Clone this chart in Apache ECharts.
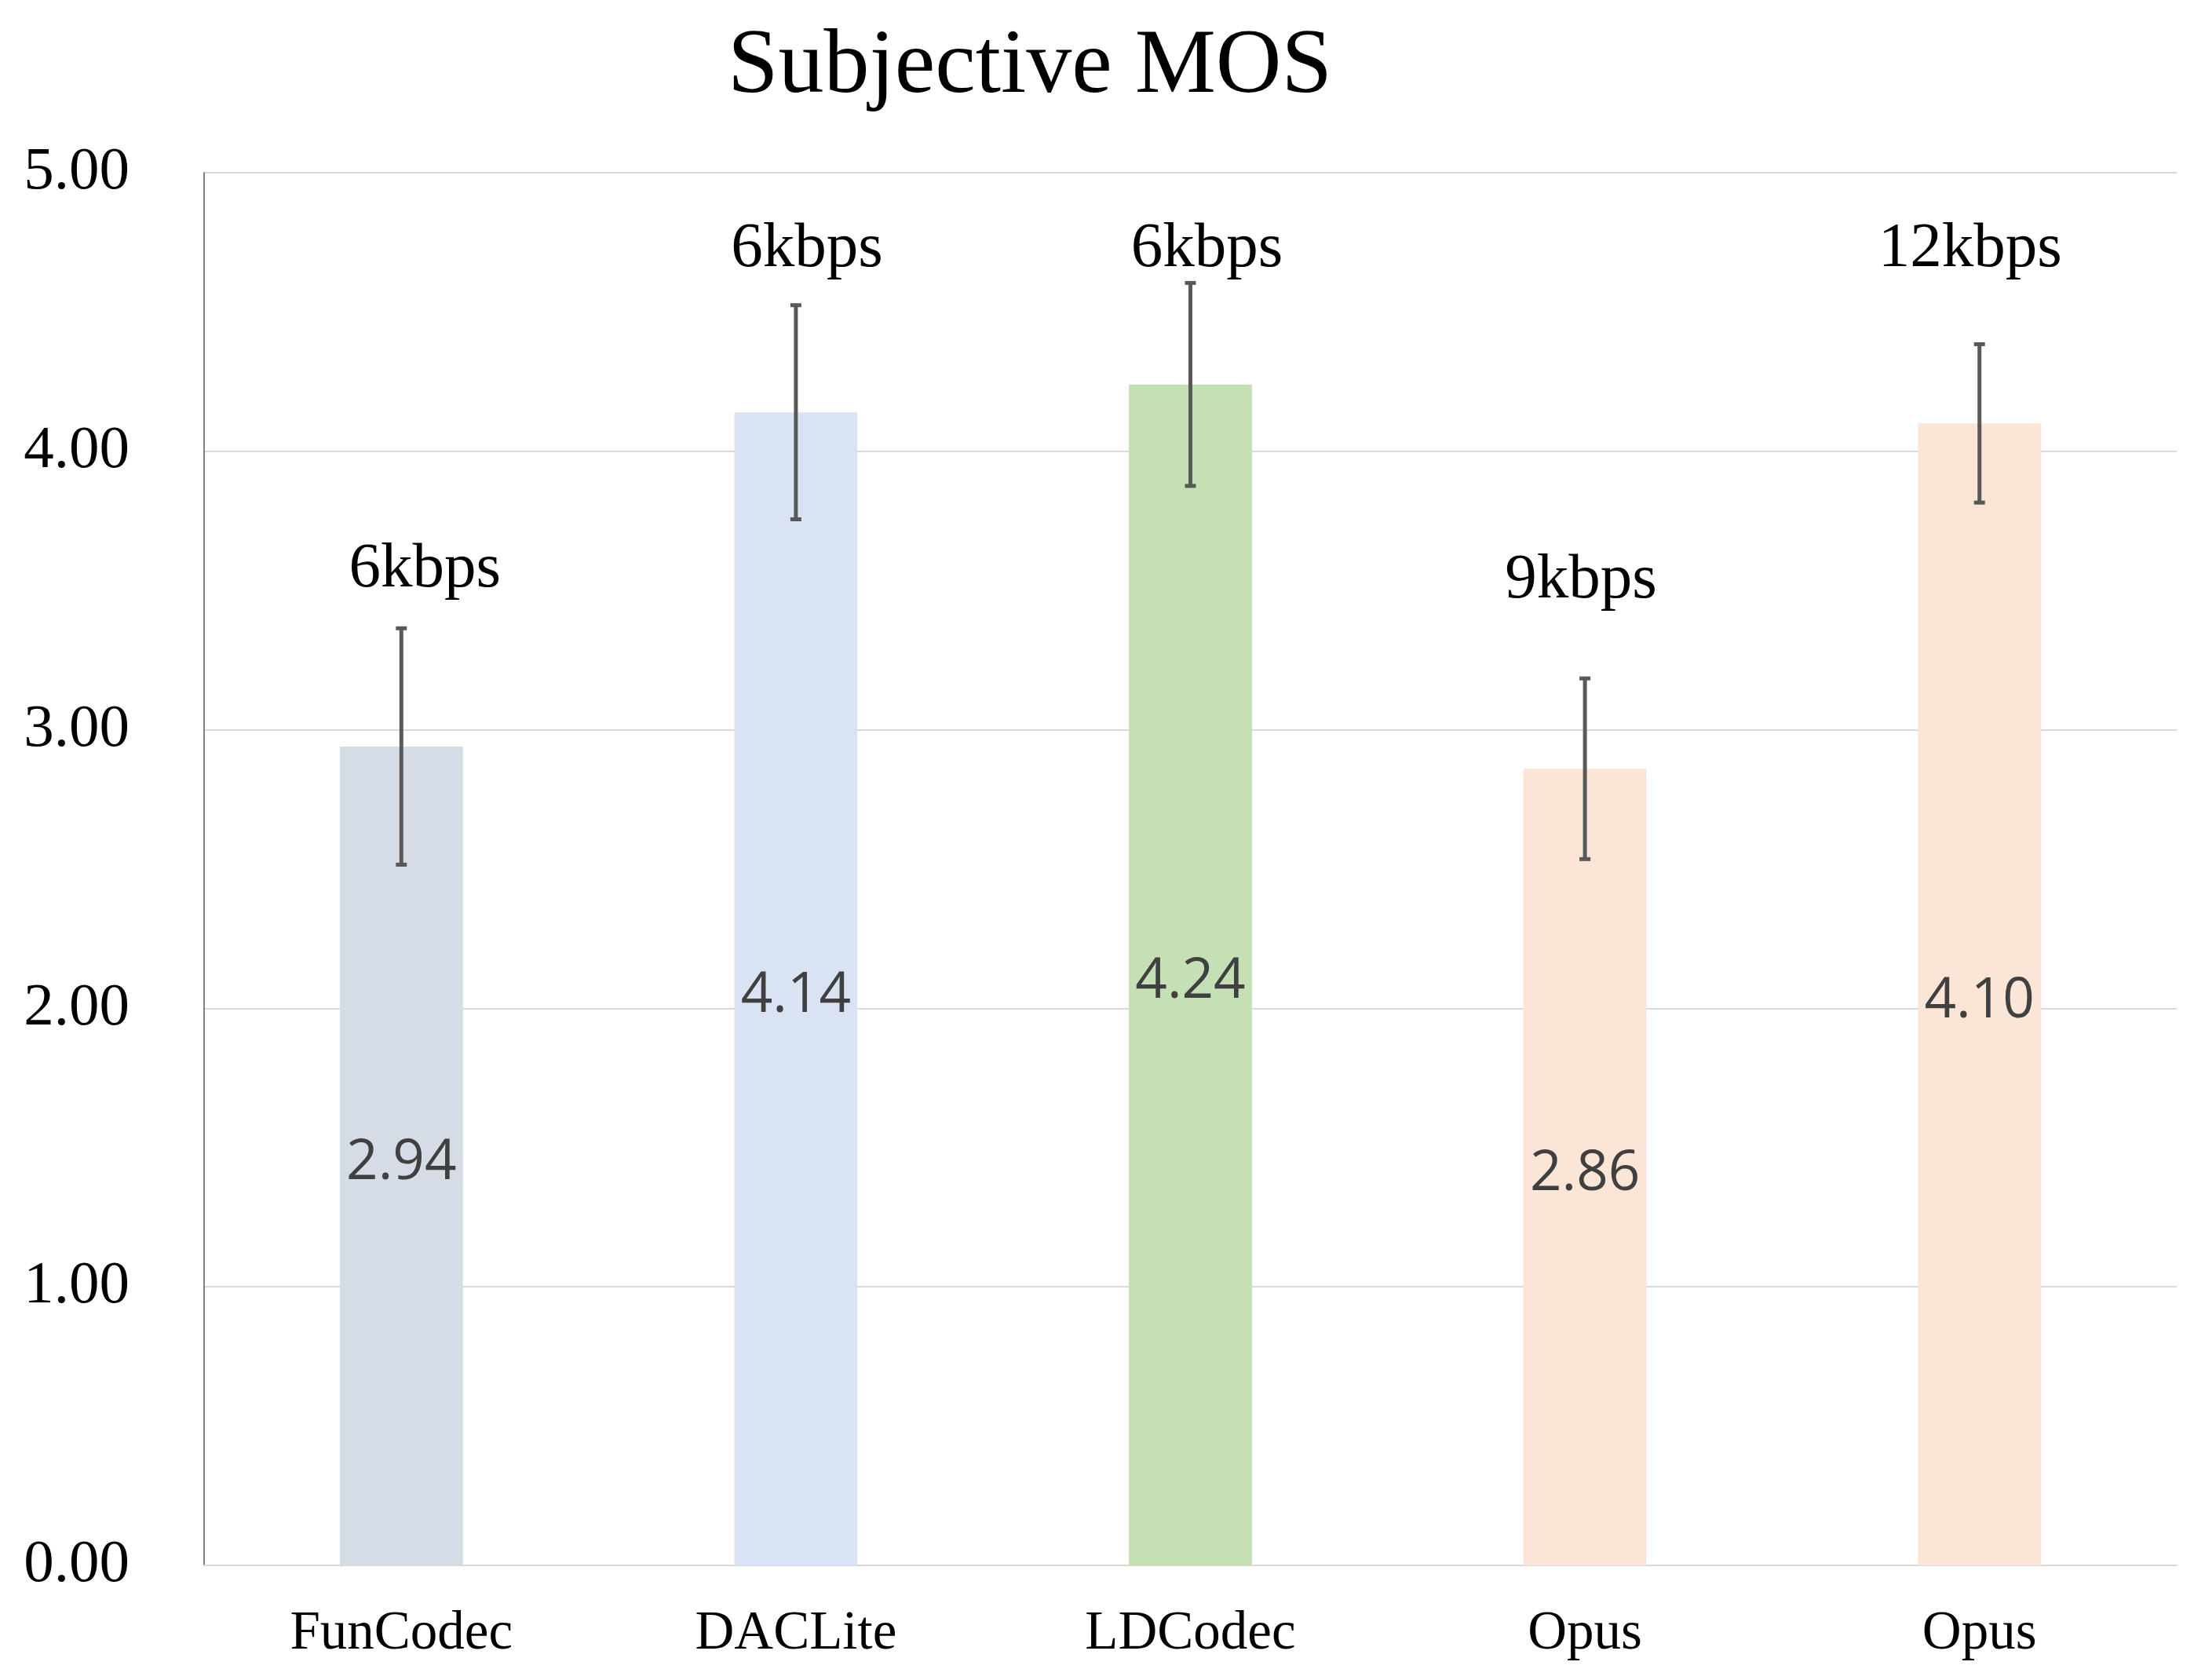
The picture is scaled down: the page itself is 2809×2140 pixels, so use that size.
<!DOCTYPE html>
<html><head><meta charset="utf-8">
<script src="https://cdn.jsdelivr.net/npm/echarts@6/dist/echarts.min.js"></script>
<style>html,body{margin:0;padding:0;background:#fff}#c{width:2809px;height:2140px}</style>
</head><body><div id="c"></div>
<script>
// ---- data ----
const categories = ['FunCodec', 'DACLite', 'LDCodec', 'Opus', 'Opus'];
const mosValues = [2.94, 4.14, 4.24, 2.86, 4.10];
const mosErrors = [0.43, 0.39, 0.37, 0.33, 0.29];
const bitrateLabels = ['6kbps', '6kbps', '6kbps', '9kbps', '12kbps'];
const bitrateLabelY = [3.575, 4.725, 4.725, 3.535, 4.725];
const yTickValues = [0, 1, 2, 3, 4, 5];
const barColors = ['#D6DCE5', '#DAE3F3', '#C5E0B4', '#FBE5D6', '#FBE5D6'];

// ---- layout / style ----
const bitrateNudgeX = [30, 14, 21, -5, -12];
const SERIF = '"Liberation Serif", "Times New Roman", serif';
const ERR = '#595959';

const chart = echarts.init(document.getElementById('c'), null, {renderer: 'canvas'});

const option = {
  backgroundColor: '#ffffff',
  animation: false,
  title: {
    text: 'Subjective MOS',
    left: 922,
    top: 24,
    textStyle: {fontFamily: SERIF, fontSize: 116, fontWeight: 'normal', color: '#000'}
  },
  grid: {left: 260, right: 36, top: 220, bottom: 146, containLabel: false},
  xAxis: {
    type: 'category',
    data: categories,
    axisTick: {show: false},
    axisLine: {show: true, lineStyle: {color: '#D9D9D9', width: 2}},
    axisLabel: {fontFamily: SERIF, fontSize: 69, color: '#000', margin: 53}
  },
  yAxis: {
    type: 'value',
    min: yTickValues[0],
    max: yTickValues[yTickValues.length - 1],
    interval: 1,
    axisTick: {show: false},
    axisLine: {show: true, lineStyle: {color: '#808080', width: 2}},
    splitLine: {show: true, lineStyle: {color: '#D9D9D9', width: 2}},
    axisLabel: {
      fontFamily: SERIF, fontSize: 77, color: '#000', margin: 95,
      formatter: v => v.toFixed(2)
    }
  },
  series: [
    {
      type: 'bar',
      barWidth: '31.2%',
      data: mosValues.map((v, i) => ({value: v, itemStyle: {color: barColors[i]}})),
      label: {
        show: true,
        position: 'inside',
        offset: [0, 9],
        formatter: p => p.value.toFixed(2),
        fontFamily: '"Open Sans", "Noto Sans", sans-serif',
        fontSize: 71,
        color: '#404040'
      },
      z: 2
    },
    {
      type: 'custom',
      data: mosValues.map((v, i) => [i, v, mosErrors[i]]),
      encode: {x: 0, y: 1},
      renderItem: (params, api) => {
        const i = api.value(0), v = api.value(1), e = api.value(2);
        const top = api.coord([i, v + e]);
        const bot = api.coord([i, v - e]);
        const x = top[0];
        const st = {stroke: ERR, lineWidth: 5};
        return {
          type: 'group',
          children: [
            {type: 'line', shape: {x1: x, y1: top[1], x2: x, y2: bot[1]}, style: st},
            {type: 'line', shape: {x1: x - 7, y1: top[1] + 2, x2: x + 7, y2: top[1] + 2}, style: st},
            {type: 'line', shape: {x1: x - 7, y1: bot[1] - 2, x2: x + 7, y2: bot[1] - 2}, style: st}
          ]
        };
      },
      z: 5
    },
    {
      type: 'custom',
      data: bitrateLabelY.map((y, i) => [i, y]),
      encode: {x: 0, y: 1},
      renderItem: (params, api) => {
        const i = api.value(0);
        const p = api.coord([i, api.value(1)]);
        return {
          type: 'text',
          x: p[0] + bitrateNudgeX[i],
          y: p[1],
          style: {
            text: bitrateLabels[i],
            font: '81px ' + SERIF,
            fill: '#000',
            align: 'center',
            verticalAlign: 'middle'
          }
        };
      },
      z: 6
    }
  ]
};
chart.setOption(option);
</script>
</body></html>
